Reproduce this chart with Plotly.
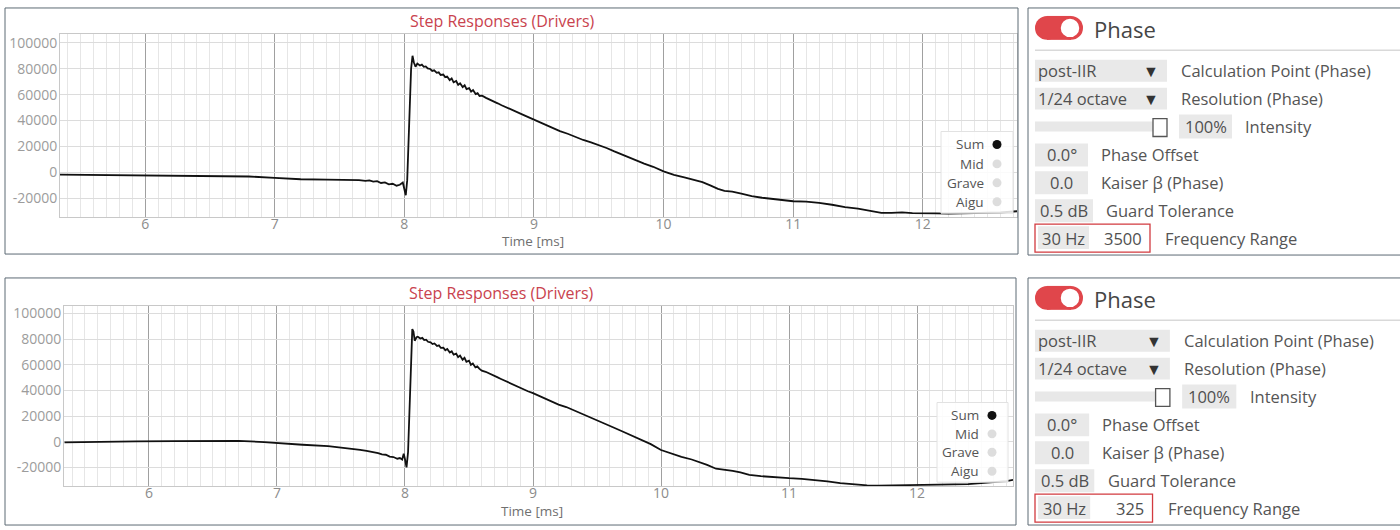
import plotly.graph_objects as go

W, H = 1400, 530

# step response "Sum", frequency range 30 Hz - 3500 Hz (upper view)
t_top = [5.34, 5.6, 5.9, 6.2, 6.5, 6.8, 7.0, 7.2, 7.4, 7.55, 7.65, 7.7, 7.73, 7.76,
         7.79, 7.82, 7.85, 7.88, 7.91, 7.94, 7.965, 7.988, 7.998, 8.011, 8.022, 8.032,
         8.042, 8.052, 8.063, 8.073, 8.086, 8.1, 8.12, 8.135, 8.15, 8.165, 8.18, 8.2,
         8.215, 8.23, 8.25, 8.265, 8.28, 8.3, 8.315, 8.33, 8.35, 8.365, 8.38, 8.4,
         8.415, 8.43, 8.45, 8.465, 8.48, 8.5, 8.515, 8.53, 8.55, 8.565, 8.58, 8.6,
         8.63, 8.66, 8.69, 8.72, 8.75, 8.78, 8.81, 8.84, 8.87, 8.9, 8.93, 8.96, 9.0,
         9.05, 9.1, 9.15, 9.2, 9.26, 9.32, 9.38, 9.44, 9.5, 9.56, 9.62, 9.7, 9.78,
         9.85, 9.92, 10.0, 10.08, 10.16, 10.24, 10.3, 10.36, 10.42, 10.47, 10.53,
         10.6, 10.68, 10.76, 10.85, 10.93, 11.0, 11.1, 11.2, 11.3, 11.4, 11.5, 11.6,
         11.68, 11.76, 11.84, 11.92, 12.0, 12.1, 12.2, 12.3, 12.4, 12.5, 12.6, 12.7,
         12.73]
v_top = [-1800, -2000, -2200, -2400, -2600, -3200, -4200, -5300, -5600, -5500, -6000,
         -6500, -6200, -7200, -6800, -8200, -7800, -9200, -8800, -10300, -9600, -7800,
         -12500, -17700, -6000, 20000, 55000, 80000, 90000, 85000, 81500, 84000, 82500,
         83200, 81500, 81800, 80200, 79800, 78300, 78800, 76800, 77200, 75200, 75500,
         73500, 74000, 71200, 72500, 69500, 70500, 67500, 68800, 65800, 67200, 64200,
         65000, 62300, 63500, 60500, 61200, 59000, 59200, 57500, 56300, 54800, 53300,
         51800, 50600, 49300, 48200, 46400, 45200, 43800, 42500, 40500, 38200, 36000,
         33800, 31800, 29800, 27200, 25000, 23200, 21300, 18800, 16200, 13200, 9700,
         6800, 4300, 800, -2000, -3800, -5800, -7500, -10000, -12800, -14300, -14800,
         -16400, -18400, -19600, -20800, -21900, -22300, -22600, -23500, -25000,
         -26900, -28000, -29500, -31200, -31300, -30900, -31500, -31800, -31600,
         -31800, -31600, -31500, -31300, -31000, -30200, -30000]

# step response "Sum", frequency range 30 Hz - 325 Hz (lower view)
t_bot = [5.34, 5.6, 5.9, 6.2, 6.5, 6.7, 6.9, 7.0, 7.2, 7.4, 7.55, 7.65, 7.7, 7.73,
         7.76, 7.79, 7.82, 7.85, 7.88, 7.91, 7.94, 7.96, 7.978, 7.99, 8.0, 8.012,
         8.024, 8.034, 8.045, 8.057, 8.066, 8.076, 8.09, 8.1, 8.12, 8.135, 8.15, 8.165,
         8.18, 8.2, 8.215, 8.23, 8.25, 8.265, 8.28, 8.3, 8.315, 8.33, 8.35, 8.365,
         8.38, 8.4, 8.415, 8.43, 8.45, 8.465, 8.48, 8.5, 8.515, 8.53, 8.55, 8.565,
         8.58, 8.6, 8.63, 8.66, 8.69, 8.72, 8.75, 8.78, 8.81, 8.84, 8.87, 8.9, 8.93,
         8.96, 9.0, 9.05, 9.1, 9.15, 9.2, 9.26, 9.32, 9.38, 9.44, 9.5, 9.56, 9.62,
         9.7, 9.78, 9.85, 9.92, 10.0, 10.08, 10.16, 10.24, 10.29, 10.36, 10.43, 10.5,
         10.56, 10.62, 10.69, 10.78, 10.88, 11.0, 11.1, 11.19, 11.3, 11.4, 11.5, 11.61,
         11.7, 11.8, 11.9, 12.0, 12.1, 12.2, 12.3, 12.4, 12.5, 12.6, 12.7, 12.75]
v_bot = [-500, 0, 300, 500, 900, 700, -200, -1000, -2300, -3400, -4800, -6300, -7000,
         -7500, -8200, -8800, -9800, -10100, -11600, -11900, -13200, -12700, -13800,
         -9300, -13500, -20000, -8000, 20000, 62000, 87900, 86000, 78800, 81500, 81900,
         80500, 81000, 79300, 79600, 78000, 77500, 76200, 76700, 74700, 75200, 73200,
         73400, 71400, 72400, 69600, 70600, 68000, 68800, 66000, 67200, 64000, 65500,
         62400, 63200, 60000, 61000, 58000, 58800, 57000, 55500, 54600, 53000, 51600,
         50400, 49000, 47600, 46500, 44800, 43400, 42000, 40600, 39400, 38000, 35600,
         33400, 31200, 29000, 27100, 24400, 21900, 19300, 16800, 14200, 11500, 8000,
         4600, 1300, -1800, -6400, -9300, -11700, -13800, -15500, -18000, -21000,
         -21800, -22600, -23900, -25800, -26800, -27700, -28400, -28900, -29700, -30800,
         -32300, -33300, -34000, -34200, -34000, -34100, -34100, -34000, -33600,
         -33300, -33000, -32300, -31600, -30600, -29700]

x_ticks = [6, 7, 8, 9, 10, 11, 12]
y_ticks = [-20000, 0, 20000, 40000, 60000, 80000, 100000]
y_major = [0, 100000]

chart_title = 'Step Responses (Drivers)'
x_title = 'Time [ms]'
legend_names = ['Sum', 'Mid', 'Grave', 'Aigu']
legend_colors = ['#111111', '#dddddd', '#dddddd', '#dddddd']

panel_title = 'Phase'
dropdown_values = ['post-IIR', '1/24 octave']
dropdown_labels = ['Calculation Point (Phase)', 'Resolution (Phase)']
intensity_value = '100%'
intensity_label = 'Intensity'
field_values = ['0.0°', '0.0', '0.5 dB']
field_labels = ['Phase Offset', 'Kaiser β (Phase)', 'Guard Tolerance']
freq_low = '30 Hz'
freq_high = ['3500', '325']
freq_label = 'Frequency Range'

CHART_FONT = 'Open Sans'
UI_FONT = 'Open Sans'
UI_SIZE = 16.5
RED = '#e0464b'
BORDER = '#5d6a74'


def px(x):
    return x / W


def py(y):
    return 1 - y / H


shapes = []
annotations = []


def rect(x0, y0, x1, y1, fill='rgba(0,0,0,0)', line=None, width=1):
    shapes.append(dict(type='rect', xref='paper', yref='paper',
                       x0=px(x0), x1=px(x1), y0=py(y1), y1=py(y0),
                       fillcolor=fill, line=dict(color=line or 'rgba(0,0,0,0)', width=width)))


def circle(x0, y0, x1, y1, fill, line=None, width=1):
    shapes.append(dict(type='circle', xref='paper', yref='paper',
                       x0=px(x0), x1=px(x1), y0=py(y1), y1=py(y0),
                       fillcolor=fill, line=dict(color=line or 'rgba(0,0,0,0)', width=width)))


def text(x, y, s, size=UI_SIZE, color='#555555', anchor='left', font=UI_FONT):
    annotations.append(dict(xref='paper', yref='paper', x=px(x), y=py(y), text=s,
                            showarrow=False, xanchor=anchor, yanchor='middle',
                            font=dict(family=font, size=size, color=color)))


fig = go.Figure()
fig.add_trace(go.Scatter(x=t_top, y=v_top, mode='lines', name='Sum', showlegend=False,
                         line=dict(color='#111111', width=1.8), xaxis='x', yaxis='y'))
fig.add_trace(go.Scatter(x=t_bot, y=v_bot, mode='lines', name='Sum', showlegend=False,
                         line=dict(color='#111111', width=1.8), xaxis='x2', yaxis='y2'))


def x_axis(dom, anchor, rng):
    return dict(domain=dom, anchor=anchor, range=rng, tickvals=x_ticks,
                showgrid=True, gridcolor='#a0a0a0', gridwidth=1, zeroline=False,
                minor=dict(tickmode='linear', tick0=0, dtick=0.1, showgrid=True,
                           gridcolor='#e6e6e6', gridwidth=1),
                showline=True, linecolor='#c8c8c8', mirror=True, ticks='',
                ticklabelstandoff=-6,
                tickfont=dict(family=CHART_FONT, size=14, color='#8c8c8c'))


def y_axis(dom, anchor, rng):
    return dict(domain=dom, anchor=anchor, range=rng, tickvals=y_ticks,
                ticktext=[str(v) for v in y_ticks], showgrid=True, gridcolor='#dcdcdc',
                zeroline=False, showline=True, linecolor='#c8c8c8', mirror=True,
                ticks='', ticklabelstandoff=-1,
                tickfont=dict(family=CHART_FONT, size=14, color='#9c9c9c'))


def y_overlay(base, anchor, rng):
    return dict(overlaying=base, anchor=anchor, range=rng, tickvals=y_major,
                showticklabels=False, showgrid=True, gridcolor='#999999', gridwidth=1.2,
                zeroline=False, showline=False, ticks='')


rng_x1, rng_y1 = [5.343, 12.727], [-34600, 106900]
rng_x2, rng_y2 = [5.336, 12.75], [-34600, 106000]

# chart frames + titles + legends
charts = [
    dict(frame=(5, 6, 1018, 253), title=(502, 19), xt=(533, 240),
         leg_box=(941, 130, 1013, 212), leg_y=[143, 162.5, 181.5, 200.5], leg_x=986,
         dot_x=997),
    dict(frame=(5, 277, 1016, 525), title=(501, 292), xt=(532, 511),
         leg_box=(937, 402, 1008, 482), leg_y=[415, 433.5, 452, 471], leg_x=981,
         dot_x=992),
]
for c in charts:
    x0, y0, x1, y1 = c['frame']
    rect(x0, y0, x1, y1, line=BORDER, width=1)
    text(c['title'][0], c['title'][1], chart_title, size=16, color='#c9434e',
         anchor='center', font=CHART_FONT)
    text(c['xt'][0], c['xt'][1], x_title, size=13.5, color='#707070', anchor='center',
         font=CHART_FONT)
    bx0, by0, bx1, by1 = c['leg_box']
    rect(bx0, by0, bx1, by1, fill='rgba(255,255,255,0.85)', line='#e2e2e2')
    for name, col, yy in zip(legend_names, legend_colors, c['leg_y']):
        text(c['leg_x'], yy, name, size=13.5, color='#555555', anchor='right',
             font=CHART_FONT)
        d = c['dot_x']
        circle(d - 4.5, yy - 4.5, d + 4.5, yy + 4.5, col)


def settings(top, sx, hi):
    def X(rel):
        return 1035 + rel * sx

    rect(1028, top, 1405, top + 248, line=BORDER, width=1)
    # toggle
    circle(1035, top + 8, 1059, top + 32, RED)
    circle(1059, top + 8, 1083, top + 32, RED)
    rect(1047, top + 8, 1071, top + 32, fill=RED)
    circle(1060, top + 10, 1080, top + 30, '#ffffff', line=RED, width=1.5)
    text(1092, top + 21, panel_title, size=22, color='#454545')
    shapes.append(dict(type='line', xref='paper', yref='paper', x0=px(1035), x1=px(1405),
                       y0=py(top + 42.5), y1=py(top + 42.5),
                       line=dict(color='#d9d9d9', width=1.5)))
    # dropdowns
    for i, (val, lab) in enumerate(zip(dropdown_values, dropdown_labels)):
        ya = top + 52 + 28 * i
        rect(X(0), ya, X(132), ya + 22, fill='#e9e9e9')
        text(X(1), ya + 11, val, color='#505050')
        text(X(116), ya + 11, '▼', size=16, color='#333333', anchor='center')
        text(X(144), ya + 11, lab, color='#555555')
    # intensity slider
    rect(X(0), top + 114, X(118), top + 124, fill='#e8e8e8')
    rect(X(118), top + 111, X(132), top + 129, fill='#ffffff', line='#555555', width=1.3)
    rect(X(144), top + 107, X(197), top + 131, fill='#e9e9e9')
    text(X(170.5), top + 119, intensity_value, color='#505050', anchor='center')
    text(X(208), top + 119, intensity_label, color='#555555')
    # numeric fields
    widths = [53, 53, 58]
    for i, (val, lab) in enumerate(zip(field_values, field_labels)):
        ya = top + 136 + 28 * i
        rect(X(0), ya, X(widths[i]), ya + 23, fill='#e9e9e9')
        text(X(widths[i] / 2), ya + 11.5, val, color='#505050', anchor='center')
        text(X(widths[i] + 11), ya + 11.5, lab, color='#555555')
    # frequency range
    rect(X(3), top + 219, X(54), top + 242, fill='#e9e9e9')
    rect(X(0), top + 217, X(115), top + 245, line='#d23a3f', width=1.3)
    text(X(28.5), top + 231, freq_low, color='#505050', anchor='center')
    text(X(109), top + 231, hi, color='#505050', anchor='right')
    text(X(128), top + 231, freq_label, color='#555555')


settings(6, 1.0, freq_high[0])
settings(277, 1.022, freq_high[1])

fig.update_layout(
    width=W, height=H, autosize=False,
    margin=dict(l=0, r=0, t=0, b=0),
    paper_bgcolor='white', plot_bgcolor='white',
    showlegend=False,
    xaxis=x_axis([px(60), px(1017)], 'y', rng_x1),
    yaxis=y_axis([py(216), py(32)], 'x', rng_y1),
    yaxis3=y_overlay('y', 'x', rng_y1),
    xaxis2=x_axis([px(64), px(1013)], 'y2', rng_x2),
    yaxis2=y_axis([py(486), py(305)], 'x2', rng_y2),
    yaxis4=y_overlay('y2', 'x2', rng_y2),
    shapes=shapes,
    annotations=annotations,
)

# page body has a default 8px margin; drop it so the figure starts at the corner
fig.write_html('out.html', config={'displayModeBar': False},
               post_script="document.body.style.margin='0';")
